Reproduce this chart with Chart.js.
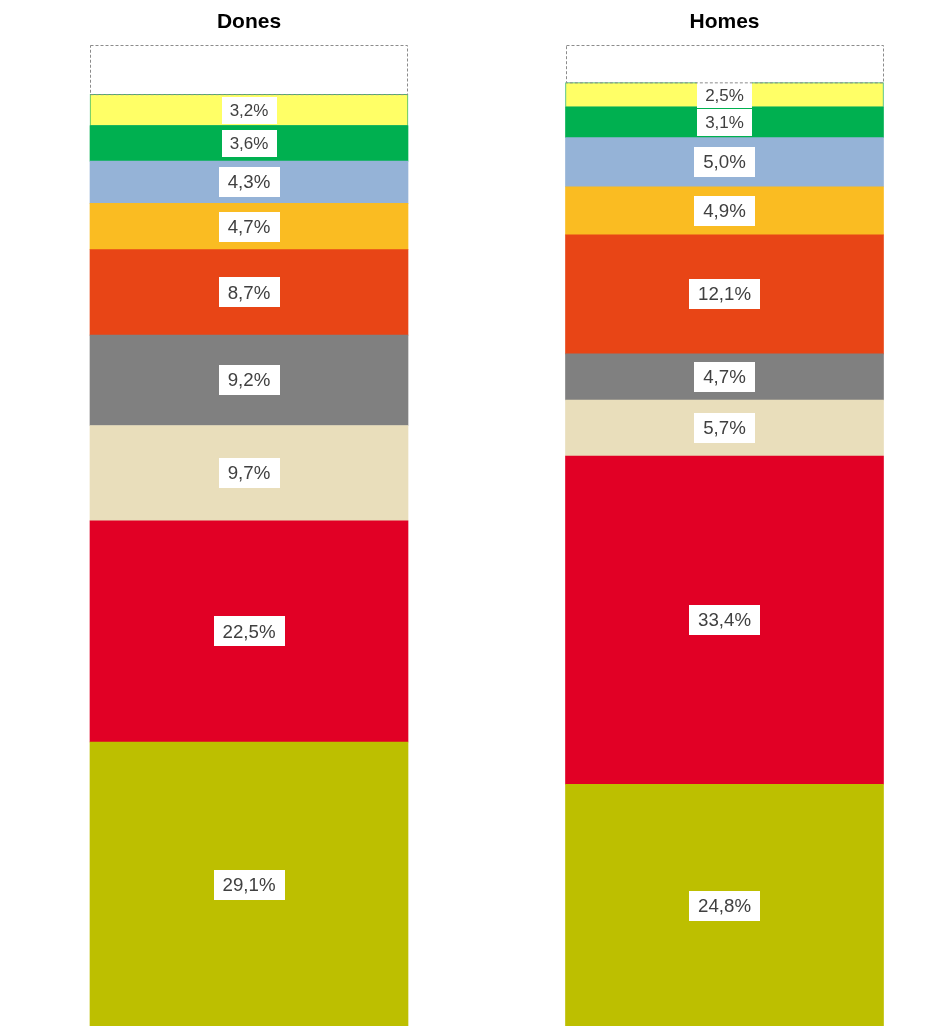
<!DOCTYPE html>
<html>
<head>
<meta charset="utf-8">
<script src="https://cdn.jsdelivr.net/npm/chart.js@4/dist/chart.umd.min.js"></script>
<style>
  html, body { margin: 0; padding: 0; background: #fff; overflow: hidden; }
  #wrap { position: relative; width: 951px; height: 1030px; }
</style>
</head>
<body>
<div id="wrap"><canvas id="bars"></canvas></div>
<script>
// categories
const groups = ["Dones", "Homes"];

// series, from the bottom of the stack to the top (%)
const olive = [29.1, 24.8];
const red = [22.5, 33.4];
const beige = [9.7, 5.7];
const grey = [9.2, 4.7];
const orange = [8.7, 12.1];
const amber = [4.7, 4.9];
const blue = [4.3, 5.0];
const green = [3.6, 3.1];
const yellow = [3.2, 2.5];
const rest = [5.0, 3.8]; // empty dashed part on top

const FONT = '"Liberation Sans", Arial, sans-serif';

function ds(data, bg, extra) {
  return Object.assign({
    data: data,
    backgroundColor: bg,
    borderWidth: 0,
    barThickness: 318,
    clip: false,
  }, extra || {});
}

const datasets = [
  ds(olive, "#BDBF00"),
  ds(red, "#E10025"),
  ds(beige, "#E9DEBB"),
  ds(grey, "#808080"),
  ds(orange, "#E84516"),
  ds(amber, "#FABC22"),
  ds(blue, "#95B3D7"),
  ds(green, "#00B050", { small: true }),
  ds(yellow, "#FFFF66", { small: true, borderColor: "#3DBB6B", borderWidth: 1, borderSkipped: false }),
  ds(rest, "#FFFFFF", { rest: true }),
];

// white value boxes + dashed outline on the rest part
const boxLabels = {
  id: "boxLabels",
  afterDatasetsDraw(chart) {
    const ctx = chart.ctx;
    ctx.save();
    chart.data.datasets.forEach((d, i) => {
      const meta = chart.getDatasetMeta(i);
      meta.data.forEach((el, j) => {
        const p = el.getProps(["x", "y", "base", "width"], true);
        if (d.rest) {
          ctx.setLineDash([3, 2]);
          ctx.strokeStyle = "#8c8c8c";
          ctx.lineWidth = 1;
          ctx.strokeRect(Math.round(p.x - p.width / 2) + 0.5, Math.round(p.y) + 0.5,
                         p.width - 1, p.base - p.y);
          ctx.setLineDash([]);
          return;
        }
        const txt = d.data[j].toFixed(1).replace(".", ",") + "%";
        const size = d.small ? 17 : 18.7;
        const bh = d.small ? 27 : 30;
        const padX = d.small ? 8 : 9;
        ctx.font = size + "px " + FONT;
        const tw = ctx.measureText(txt).width;
        const cy = (p.y + p.base) / 2;
        ctx.fillStyle = "#FFFFFF";
        ctx.fillRect(Math.round(p.x - tw / 2 - padX), Math.round(cy - bh / 2), Math.round(tw + 2 * padX), bh);
        ctx.fillStyle = "#404040";
        ctx.textAlign = "center";
        ctx.textBaseline = "middle";
        ctx.fillText(txt, p.x, cy + 1);
      });
    });
    ctx.restore();
  }
};

new Chart(document.getElementById("bars"), {
  type: "bar",
  data: { labels: groups, datasets: datasets },
  options: {
    responsive: true,
    maintainAspectRatio: false,
    animation: false,
    layout: { padding: { left: 249, right: 226.5, top: 0, bottom: 2 } },
    plugins: {
      legend: { display: false },
      tooltip: { enabled: false },
    },
    scales: {
      x: {
        position: "top",
        stacked: true,
        offset: false,
        grid: { display: false, drawTicks: false },
        border: { display: false },
        ticks: {
          color: "#000000",
          padding: 10,
          font: { family: FONT, size: 21, weight: "bold" },
        },
      },
      y: {
        stacked: true,
        display: false,
        min: 0,
        max: 100,
      },
    },
  },
  plugins: [boxLabels],
});
</script>
</body>
</html>
